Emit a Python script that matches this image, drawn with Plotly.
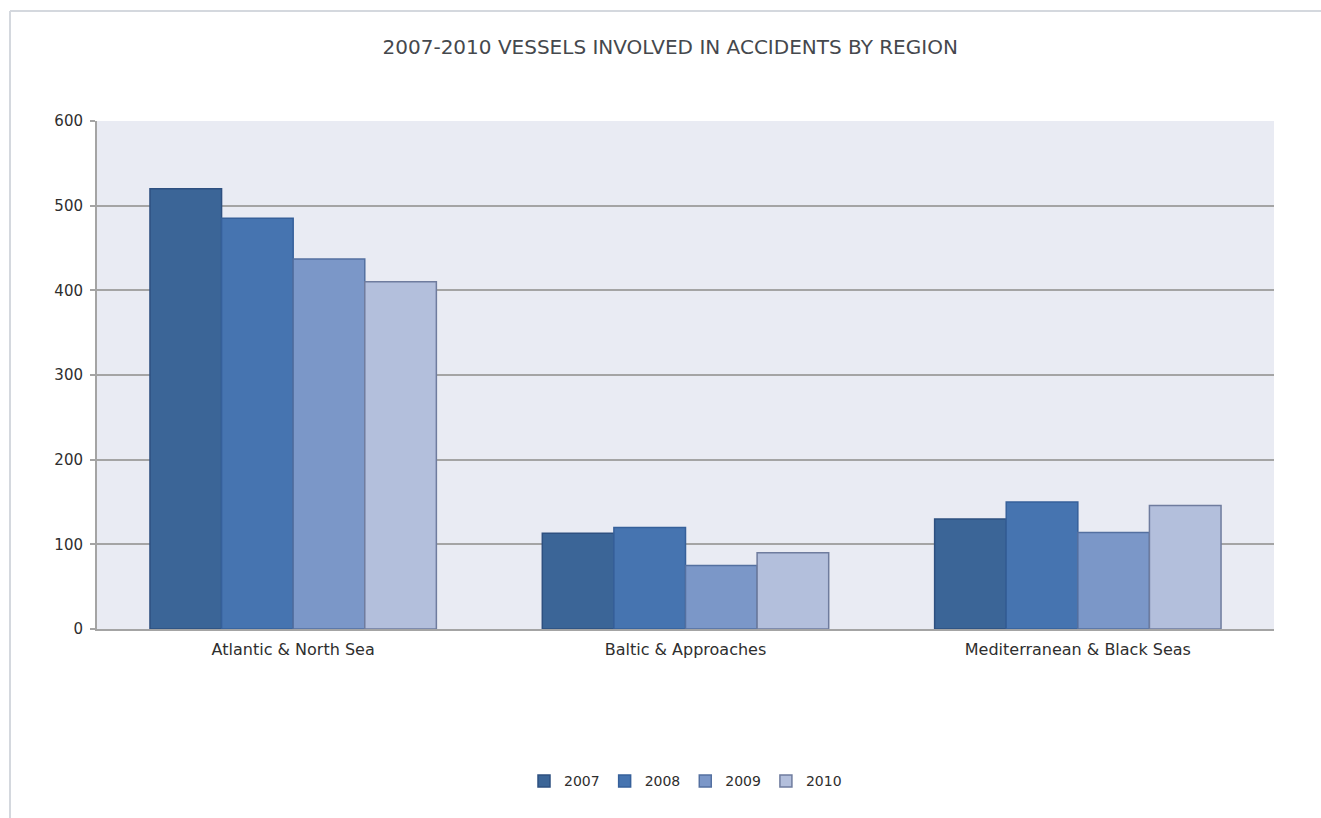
import plotly.graph_objects as go

categories = ["Atlantic & North Sea", "Baltic & Approaches", "Mediterranean & Black Seas"]
years = ["2007", "2008", "2009", "2010"]
v2007 = [520, 113, 130]
v2008 = [485, 120, 150]
v2009 = [437, 75, 114]
v2010 = [410, 90, 146]
series = [v2007, v2008, v2009, v2010]
y_ticks = [0, 100, 200, 300, 400, 500, 600]

fills = ["#3B6597", "#4674B0", "#7B97C8", "#B3BFDC"]
lines = ["#2E5080", "#36609A", "#5470A0", "#6F7C9E"]

TICK_FONT = dict(family="DejaVu Sans", size=15, color="#2E2E2E")

fig = go.Figure()
for yr, vals, fc, lc in zip(years, series, fills, lines):
    fig.add_trace(go.Bar(name=yr, x=categories, y=vals,
                         marker=dict(color=fc, line=dict(color=lc, width=1.5))))

fig.update_layout(
    width=1321, height=818,
    barmode="group", bargap=0.27, bargroupgap=0,
    paper_bgcolor="#FFFFFF", plot_bgcolor="#E9EBF3",
    margin=dict(l=97, r=47, t=121, b=189),
    title=dict(text="2007-2010 VESSELS INVOLVED IN ACCIDENTS BY REGION",
               x=0.487, xref="paper", xanchor="center", y=1-47/818, yanchor="middle",
               font=dict(family="DejaVu Sans", size=20, color="#45484D")),
    font=TICK_FONT,
    legend=dict(orientation="h", x=0.5, xanchor="center", y=-0.30, yanchor="middle",
                font=dict(family="DejaVu Sans", size=14, color="#2E2E2E"),
                itemwidth=30, traceorder="normal"),
    showlegend=True,
)
fig.update_yaxes(range=[0, 600], tickvals=y_ticks, showgrid=True, gridcolor="#A4A4A4", gridwidth=2,
                 ticks="outside", ticklen=5, tickcolor="#A4A4A4", tickwidth=2,
                 showline=True, linecolor="#A4A4A4", linewidth=2, zeroline=False,
                 ticklabelstandoff=4, tickfont=TICK_FONT)
fig.update_xaxes(showline=True, linecolor="#A4A4A4", linewidth=2, ticks="",
                 ticklabelstandoff=5, tickfont=dict(family="DejaVu Sans", size=16, color="#2E2E2E"))

# outer frame lines of the original image
fig.add_shape(type="line", xref="paper", yref="paper",
              x0=-87/1177, x1=1 + 47/1177, y0=1 + 110/508, y1=1 + 110/508,
              line=dict(color="#D4D8DE", width=2))
fig.add_shape(type="line", xref="paper", yref="paper",
              x0=-87/1177, x1=-87/1177, y0=1 + 110/508, y1=-189/508,
              line=dict(color="#D4D8DE", width=2))

fig.write_html("out.html")
